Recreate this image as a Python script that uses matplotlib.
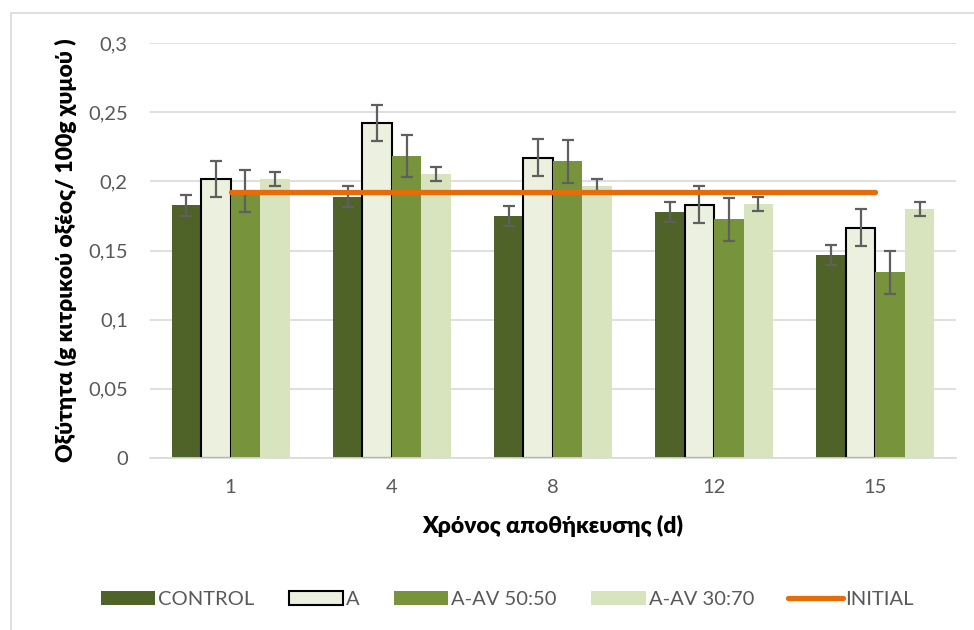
import numpy as np
import matplotlib.pyplot as plt
from matplotlib.patches import Rectangle, Patch
from matplotlib.lines import Line2D

plt.rcParams['font.family'] = ['Lato', 'Open Sans', 'DejaVu Sans']

days = ['1', '4', '8', '12', '15']
series = ['CONTROL', 'A', 'A-AV 50:50', 'A-AV 30:70']

control = [0.1827, 0.189, 0.1752, 0.1776, 0.1465]
a = [0.2015, 0.242, 0.2171, 0.1832, 0.1665]
a_av_50 = [0.1930, 0.2183, 0.2145, 0.1725, 0.1342]
a_av_30 = [0.2017, 0.2053, 0.1966, 0.1836, 0.1800]

control_err = [0.0075, 0.0073, 0.0073, 0.0072, 0.0073]
a_err = [0.0131, 0.0131, 0.0132, 0.0131, 0.0132]
a_av_50_err = [0.0153, 0.0155, 0.0154, 0.0155, 0.0155]
a_av_30_err = [0.0050, 0.0050, 0.0050, 0.0050, 0.0050]

initial = [0.192, 0.192, 0.192, 0.192, 0.192]

yticks = [0, 0.05, 0.1, 0.15, 0.2, 0.25, 0.3]
ytick_labels = ['0', '0,05', '0,1', '0,15', '0,2', '0,25', '0,3']

values = [control, a, a_av_50, a_av_30]
errors = [control_err, a_err, a_av_50_err, a_av_30_err]
colors = ['#4F6228', '#EBF1DE', '#77933C', '#D7E4BD']
edges = ['none', 'black', 'none', 'none']

fig = plt.figure(figsize=(9.74, 6.30), dpi=100)
ax = fig.add_axes([0.154, 0.273, 0.8275, 0.6587])

x = np.arange(len(days))
w = 0.183
for i in range(4):
    ax.bar(x + (i - 1.5) * w, values[i], w, color=colors[i],
           edgecolor=edges[i], linewidth=1.5 if edges[i] != 'none' else 0,
           zorder=2)
    ax.errorbar(x + (i - 1.5) * w, values[i], yerr=errors[i], fmt='none',
                ecolor='#5F5F5F', elinewidth=1.6, capsize=4.5, capthick=1.6,
                zorder=3)

ax.plot(x, initial, color='#E46C0A', linewidth=3.8, solid_capstyle='round',
        zorder=4)

ax.set_xlim(-0.5, 4.5)
ax.set_ylim(0, 0.3)
ax.set_yticks(yticks)
ax.set_yticklabels(ytick_labels)
ax.set_xticks(x)
ax.set_xticklabels(days)
ax.tick_params(axis='both', length=0, labelsize=14.5, colors='#595959')
ax.tick_params(axis='y', pad=16)
ax.tick_params(axis='x', pad=15)
ax.grid(axis='y', color='#D9D9D9', linewidth=1.2, zorder=0)
ax.set_axisbelow(True)
for s in ['top', 'right', 'left']:
    ax.spines[s].set_visible(False)
ax.spines['bottom'].set_color('#D9D9D9')
ax.spines['bottom'].set_linewidth(1.2)

ax.set_ylabel('Οξύτητα (g κιτρικού οξέος/ 100g χυμού )', fontsize=16.5,
              fontweight='heavy', labelpad=8)
ax.set_xlabel('Χρόνος αποθήκευσης (d)', fontsize=16.5, fontweight='heavy',
              labelpad=14)

handles = [Patch(facecolor=colors[i],
                 edgecolor=edges[i] if edges[i] != 'none' else colors[i],
                 linewidth=1.5 if edges[i] != 'none' else 0)
           for i in range(4)]
handles.append(Line2D([0], [0], color='#E46C0A', linewidth=3.8,
                      solid_capstyle='round'))
leg = fig.legend(handles, series + ['INITIAL'], loc='center',
                 bbox_to_anchor=(0.521, 0.049), ncol=5, frameon=False,
                 fontsize=14.5, handlelength=2.7, handletextpad=0.15,
                 columnspacing=1.7, labelcolor='#595959')

fig.patches.append(Rectangle((11 / 974, -0.1), 1.2, 1 - 13 / 630 + 0.1,
                             transform=fig.transFigure, fill=False,
                             edgecolor='#D9D9D9', linewidth=1.2))

fig.savefig('out.png', dpi=100)
